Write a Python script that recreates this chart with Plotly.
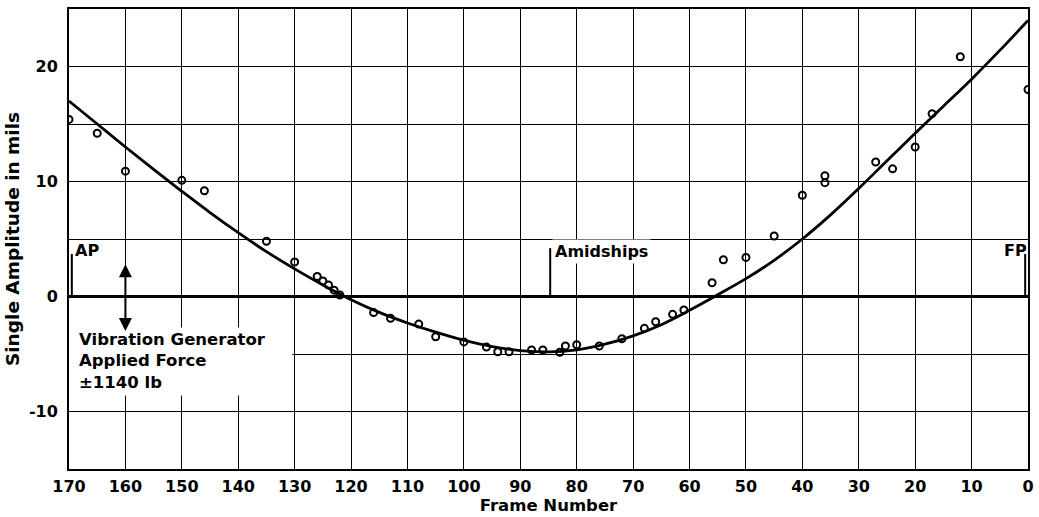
import plotly.graph_objects as go

# ---- data ----
point_frames = [170, 165, 160, 150, 146, 135, 130, 126, 125, 124, 123, 122,
                116, 113, 108, 105, 100, 96, 94, 92, 88, 86, 83, 82, 80, 76,
                72, 68, 66, 63, 61, 56, 54, 50, 45, 40, 36, 36, 27, 24, 20,
                17, 12, 0]
point_amps = [15.4, 14.2, 10.9, 10.1, 9.2, 4.8, 3.0, 1.75, 1.35, 1.0, 0.55, 0.13,
              -1.4, -1.9, -2.4, -3.5, -3.95, -4.4, -4.8, -4.8, -4.65, -4.65, -4.85, -4.3, -4.2, -4.3,
              -3.67, -2.77, -2.2, -1.55, -1.17, 1.2, 3.2, 3.4, 5.26, 8.8, 10.5, 9.9, 11.7, 11.1, 13.0,
              15.9, 20.85, 18.0]

curve_frames = [170, 165, 160, 155, 150, 145, 140, 135, 130, 125, 120, 115, 110,
                105, 100, 95, 90, 85, 80, 75, 70, 65, 60, 55, 50, 45, 40, 35,
                30, 25, 20, 15, 10, 5, 0]
curve_amps = [17.0, 15.0, 13.0, 11.05, 9.15, 7.3, 5.55, 3.9, 2.4, 1.0, -0.28, -1.38, -2.3,
              -3.1, -3.8, -4.35, -4.7, -4.82, -4.65, -4.15, -3.42, -2.45, -1.2, 0.15, 1.55, 3.15, 5.0, 7.1,
              9.4, 11.8, 14.2, 16.55, 18.9, 21.4, 24.0]

x_ticks = list(range(0, 171, 10))
y_grid = list(range(-15, 26, 5))
y_labels = ["", "-10", "", "0", "", "10", "", "20", ""]

stations = {"AP": 169.5, "Amidships": 84.7, "FP": 0.5}
generator_frame = 160
generator_text = "Vibration Generator<br>Applied Force<br>±1140 lb"

FONT = "DejaVu Sans"
INK = "black"
TXT = dict(family=FONT, size=16, color=INK, weight="bold")

fig = go.Figure()
fig.add_trace(go.Scatter(x=curve_frames, y=curve_amps, mode="lines",
                         line=dict(color=INK, width=2.8, shape="spline", smoothing=1.0),
                         hoverinfo="skip", showlegend=False))
fig.add_trace(go.Scatter(x=point_frames, y=point_amps, mode="markers",
                         marker=dict(symbol="circle-open", size=7, color=INK,
                                     line=dict(width=2, color=INK)),
                         showlegend=False))

# white area behind the generator note (hides grid there)
fig.add_shape(type="rect", xref="x", yref="y", x0=170, x1=130.4, y0=-8.6, y1=-2.7,
              fillcolor="white", line=dict(width=0), layer="between")

# station ticks
for name, f in stations.items():
    fig.add_shape(type="line", xref="x", yref="y", x0=f, x1=f, y0=0,
                  y1=4.2 if name == "Amidships" else 3.7,
                  line=dict(color=INK, width=2), layer="above")

fig.add_annotation(x=stations["AP"], y=4.0, text="AP", showarrow=False,
                   xanchor="left", yanchor="middle", xshift=1, font=TXT)
fig.add_annotation(x=stations["FP"], y=4.0, text="FP", showarrow=False,
                   xanchor="right", yanchor="middle", xshift=4, font=TXT)
fig.add_annotation(x=stations["Amidships"], y=3.95, text="Amidships", showarrow=False,
                   xanchor="left", yanchor="middle", xshift=2, bgcolor="white", borderpad=2,
                   font=TXT)

# double arrow for the generator force
for tip in (2.8, -3.0):
    fig.add_annotation(x=generator_frame, y=tip, ax=generator_frame, ay=0,
                       xref="x", yref="y", axref="x", ayref="y", text="",
                       showarrow=True, arrowhead=2, arrowsize=1.3, arrowwidth=2,
                       arrowcolor=INK)

fig.add_annotation(x=168.6, y=-5.6, text=generator_text, showarrow=False,
                   xanchor="left", yanchor="middle", align="left",
                   font=dict(TXT, size=16.5))

fig.update_layout(
    width=1039, height=517,
    margin=dict(l=69, r=5, t=9, b=48),
    paper_bgcolor="white", plot_bgcolor="white",
    font=TXT,
    xaxis=dict(range=[170, 0], tickvals=x_ticks, ticktext=[str(v) for v in x_ticks],
               showgrid=True, gridcolor=INK, gridwidth=1.4, zeroline=False,
               showline=True, mirror=True, linecolor=INK, linewidth=2,
               ticks="", ticklabelstandoff=2, tickfont=TXT,
               title=dict(text="Frame Number", standoff=3, font=dict(TXT, size=16.5))),
    yaxis=dict(range=[-15, 25], tickvals=y_grid, ticktext=y_labels,
               showgrid=True, gridcolor=INK, gridwidth=1.4,
               zeroline=True, zerolinecolor=INK, zerolinewidth=3,
               showline=True, mirror=True, linecolor=INK, linewidth=2,
               ticks="", ticklabelstandoff=6, tickfont=TXT,
               title=dict(text="Single Amplitude in mils", standoff=4, font=dict(TXT, size=18.5))),
)

fig.write_html("out.html")
